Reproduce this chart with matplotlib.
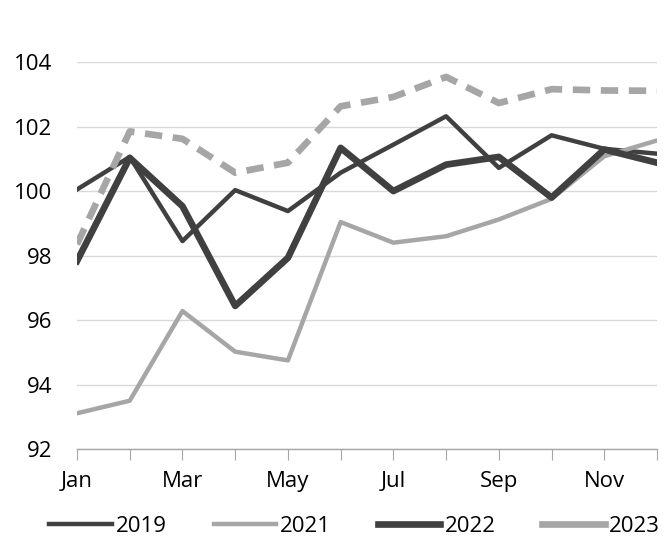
import matplotlib
matplotlib.use('Agg')
import matplotlib.pyplot as plt
import numpy as np

# data
months = ['Jan', 'Feb', 'Mar', 'Apr', 'May', 'Jun', 'Jul', 'Aug', 'Sep', 'Oct', 'Nov', 'Dec']
y2019 = [100.05, 101.06, 98.45, 100.03, 99.38, 100.57, 101.44, 102.32, 100.72, 101.73, 101.31, 101.16]
y2021 = [93.11, 93.5, 96.28, 95.02, 94.75, 99.04, 98.4, 98.6, 99.12, 99.76, 101.08, 101.57]
y2022 = [97.83, 101.03, 99.53, 96.44, 97.93, 101.34, 100.0, 100.82, 101.06, 99.8, 101.29, 100.88]
y2023 = [98.35, 101.85, 101.62, 100.57, 100.88, 102.63, 102.92, 103.54, 102.73, 103.16, 103.12, 103.11]

dark = '#404040'
light = '#a6a6a6'

plt.rcParams['font.family'] = ['Open Sans', 'DejaVu Sans']

fig = plt.figure(figsize=(6.69, 5.47), dpi=100)
ax = fig.add_axes([0.1151, 0.179, 0.867, 0.7075])
x = np.arange(len(months))

ax.plot(x, y2019, color=dark, lw=3.2, label='2019')
ax.plot(x, y2021, color=light, lw=3.2, label='2021')
ax.plot(x, y2022, color=dark, lw=4.8, label='2022')
ax.plot(x, y2023, color=light, lw=4.8, label='2023', dashes=(2.6, 1.6))

ax.set_xlim(0, 11)
ax.set_ylim(92, 104)
ax.set_yticks(np.arange(92, 105, 2))
ax.set_xticks(x)
ax.set_xticklabels([m if i % 2 == 0 else '' for i, m in enumerate(months)])
ax.grid(axis='y', color='#d9d9d9', lw=1)
ax.set_axisbelow(True)
for s in ['left', 'right', 'top']:
    ax.spines[s].set_visible(False)
ax.spines['bottom'].set_color('#a6a6a6')
ax.spines['bottom'].set_linewidth(1)
ax.tick_params(axis='x', length=8, color='#a6a6a6', labelsize=16, pad=8, direction='out')
ax.tick_params(axis='y', length=0, labelsize=16, pad=18)

leg = fig.legend(loc='center', bbox_to_anchor=(0.53, 0.037), ncol=4, frameon=False,
                 fontsize=16, handlelength=2.8, handletextpad=0.2, columnspacing=2.1)
for h in leg.get_lines():
    h.set_linestyle('-')

fig.savefig('out.png', dpi=100)
